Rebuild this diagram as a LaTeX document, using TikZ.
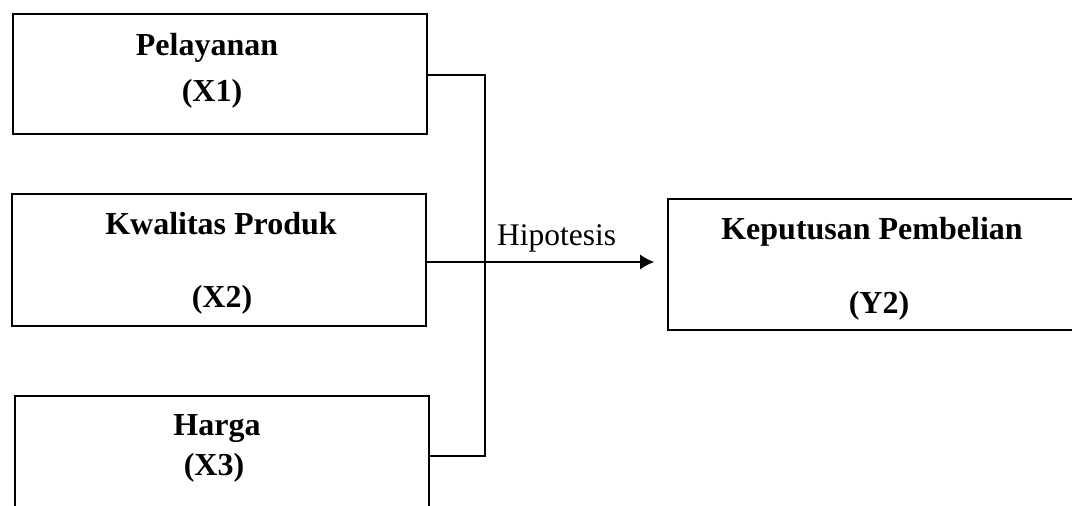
\documentclass[tikz,border=0pt]{standalone}
\usepackage{fontspec}
\setmainfont{Liberation Serif}
\usetikzlibrary{arrows.meta}
\tikzset{
  box/.style={draw=black, line width=1.6pt, rectangle, inner sep=0pt},
  btxt/.style={anchor=base, inner sep=0pt, font=\fontsize{32}{38}\selectfont\bfseries},
  rtxt/.style={anchor=base west, inner sep=0pt, font=\fontsize{31.5}{38}\selectfont},
  conn/.style={draw=black, line width=1.6pt},
}
\begin{document}
\begin{tikzpicture}[x=1pt,y=-1pt]
\useasboundingbox (0,0) rectangle (1072,506);
\clip (0,0) rectangle (1072,506);
% boxes
\node[box, minimum width=414pt, minimum height=120pt] (X1) at (220,74) {};
\node[box, minimum width=414pt, minimum height=132pt] (X2) at (219,260) {};
\node[box, minimum width=414pt, minimum height=134pt] (X3) at (222,463) {};
\node[box, minimum width=421pt, minimum height=131pt] (Y) at (878.5,264.5) {};
% texts
\node[btxt] (t1a) at (207,55) {Pelayanan};
\node[btxt] (t1b) at (212,101) {(X1)};
\node[btxt] (t2a) at (221,234) {Kwalitas Produk};
\node[btxt] (t2b) at (222,307) {(X2)};
\node[btxt] (t3a) at (217,435) {Harga};
\node[btxt] (t3b) at (214,475) {(X3)};
\node[btxt] (tya) at (872,239) {Keputusan Pembelian};
\node[btxt] (tyb) at (879,313) {(Y2)};
\node[rtxt] (hip) at (497,245) {Hipotesis};
% connectors
\coordinate (jt) at (485,75);
\coordinate (jm) at (485,262);
\coordinate (jb) at (485,456);
\draw[conn] (X1.east |- jt) -- (jt) -- (jb) -- (X3.east |- jb);
\draw[conn] (X2.east |- jm) -- (jm);
\draw[conn, -{Latex[length=14pt,width=15pt]}, shorten >=13pt] (jm) -- (Y.west |- jm);
\end{tikzpicture}
\end{document}
